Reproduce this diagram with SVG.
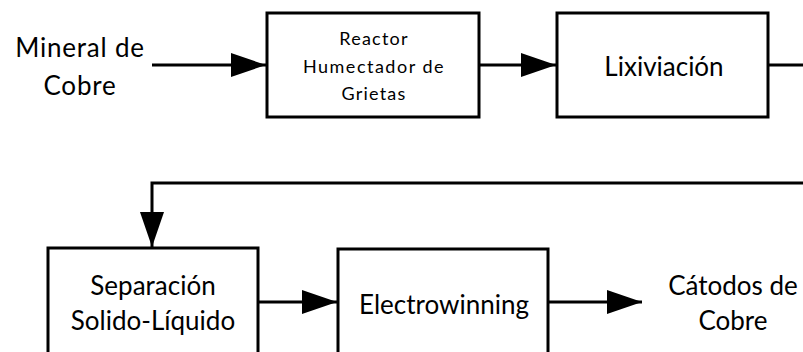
<svg xmlns="http://www.w3.org/2000/svg" width="803" height="352" viewBox="0 0 803 352">
<defs>
<style>
.box{fill:#fff;stroke:#000;stroke-width:3}
.ln{fill:none;stroke:#000;stroke-width:3}
.t{font-family:Lato,"Open Sans",sans-serif;fill:#000;text-anchor:middle}
.big{font-size:26px}
.sm{font-size:18px;letter-spacing:1.2px}
</style>
<marker id="ah" markerUnits="userSpaceOnUse" markerWidth="35" markerHeight="24" refX="35" refY="12" orient="auto">
<path d="M0,0 L35,12 L0,24 Z" fill="#000"/>
</marker>
</defs>
<rect width="803" height="352" fill="#fff"/>
<g id="connectors">
<path class="ln" d="M152,65 H266" marker-end="url(#ah)"/>
<path class="ln" d="M479,65 H556" marker-end="url(#ah)"/>
<path class="ln" d="M768,65 H803"/>
<path class="ln" d="M803,183 H152 V247" marker-end="url(#ah)"/>
<path class="ln" d="M258,302 H337" marker-end="url(#ah)"/>
<path class="ln" d="M548,302 H642" marker-end="url(#ah)"/>
</g>
<g id="mineral">
<text class="t big" x="80" y="57" style="letter-spacing:0.8px">Mineral de</text>
<text class="t big" x="80" y="95" style="letter-spacing:0.8px">Cobre</text>
</g>
<g id="reactor">
<rect class="box" x="267" y="13" width="212" height="104"/>
<text class="t sm" x="374" y="45">Reactor</text>
<text class="t sm" x="374" y="73" style="letter-spacing:1.5px">Humectador de</text>
<text class="t sm" x="374" y="100">Grietas</text>
</g>
<g id="lixiviacion">
<rect class="box" x="557" y="13" width="211" height="104"/>
<text class="t big" x="664" y="76">Lixiviación</text>
</g>
<g id="separacion">
<rect class="box" x="48" y="248" width="210" height="112"/>
<text class="t big" x="153" y="295">Separación</text>
<text class="t big" x="153" y="330">Solido-Líquido</text>
</g>
<g id="electrowinning">
<rect class="box" x="338" y="249" width="210" height="112"/>
<text class="t big" x="444" y="314">Electrowinning</text>
</g>
<g id="catodos">
<text class="t big" x="733" y="295">Cátodos de</text>
<text class="t big" x="733" y="330">Cobre</text>
</g>
</svg>
